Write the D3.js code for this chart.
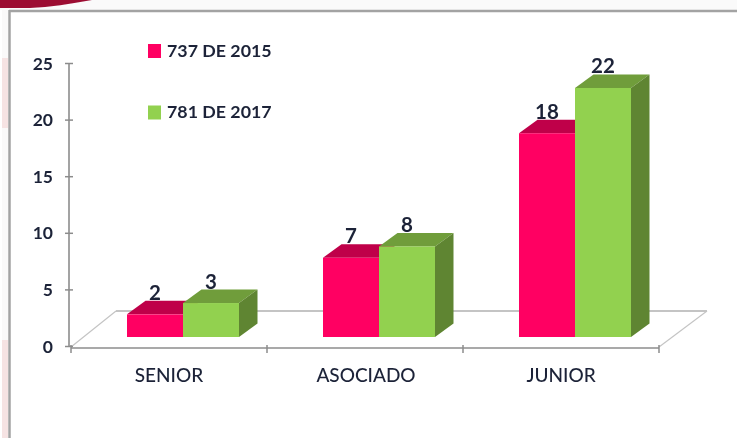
<!DOCTYPE html>
<html>
<head>
<meta charset="utf-8">
<script src="https://cdn.jsdelivr.net/npm/d3@7"></script>
<style>
  html, body { margin: 0; padding: 0; background: #fff; }
  svg { display: block; }
  text { font-family: Lato, "Open Sans", sans-serif; font-weight: 700; fill: #1c2438; }
</style>
</head>
<body>
<svg id="chart" width="737" height="438"></svg>
<script>
//// DATA
const categories = ["SENIOR", "ASOCIADO", "JUNIOR"]
const seriesNames = ["737 DE 2015", "781 DE 2017"]
const values2015 = [2, 7, 18]
const values2017 = [3, 8, 22]
const yTicks = [0, 5, 10, 15, 20, 25]

//// STYLE
const faceColors = ["#ff0062", "#92d14f"]
const topColors = ["#bf0049", "#6f9d3b"]
const sideColors = ["#a80040", "#5f8530"]
const axisColor = "#8c8c8c"
const floorColor = "#c4c4c4"

const width = 737, height = 438
const svg = d3.select("#chart")

// the picture is a soft upscaled screenshot, so everything gets a little blur
// (filter goes on groups, a straight line alone has an empty bbox and vanishes)
const defs = svg.append("defs")
defs.append("filter").attr("id", "soft").append("feGaussianBlur").attr("stdDeviation", 0.45)
defs.append("filter").attr("id", "softer").append("feGaussianBlur").attr("stdDeviation", 1.2)

const x = d3.scaleBand().domain(categories).range([71, 659])
const y = d3.scaleLinear().domain([0, 25]).range([346, 63])

// 3d offsets
const floorDx = 45, floorDy = -36   // full floor depth
const barShiftX = 14, barShiftY = -9 // bars stand a bit behind the front edge
const depthX = 18.5, depthY = -13.5
const barW = 56

//// slide background behind the chart frame
const bg = svg.append("g")
bg.append("rect").attr("x", 2).attr("y", 8).attr("width", 6).attr("height", 430).attr("fill", "#f7f5f5").attr("opacity", 0.6)
bg.append("rect").attr("width", width).attr("height", 10).attr("fill", "#fafafa")
bg.append("path")
  .attr("d", "M0,0H92C70,4 50,7 30,8H0Z")
  .attr("fill", "#9c0f33")
  .attr("filter", "url(#soft)")
bg.append("rect").attr("x", 2).attr("y", 58).attr("width", 6).attr("height", 70).attr("fill", "#f6e3e3").attr("filter", "url(#soft)")
bg.append("rect").attr("x", 2).attr("y", 340).attr("width", 6).attr("height", 98).attr("fill", "#f6e3e3").attr("filter", "url(#soft)")

//// frame
const frame = svg.append("g").attr("filter", "url(#soft)")
frame.append("line").attr("x1", 9).attr("x2", width + 4).attr("y1", 11).attr("y2", 11)
  .attr("stroke", "#a3a3a3").attr("stroke-width", 2.5)
frame.append("line").attr("x1", 9.5).attr("x2", 9.5).attr("y1", 10).attr("y2", height + 4)
  .attr("stroke", "#a3a3a3").attr("stroke-width", 2.5)

//// floor
const x0 = x.range()[0], x1 = x.range()[1], y0 = y(0)
const floor = svg.append("g").attr("filter", "url(#soft)").attr("fill", "none").attr("stroke", floorColor)
floor.append("line").attr("x1", x0 + floorDx).attr("x2", x1 + 48).attr("y1", y0 + floorDy + 1).attr("y2", y0 + floorDy + 1).attr("stroke-width", 2)
floor.append("line").attr("x1", x0).attr("x2", x0 + floorDx).attr("y1", y0 + 1).attr("y2", y0 + floorDy + 1).attr("stroke-width", 1.2)
floor.append("line").attr("x1", x1).attr("x2", x1 + 48).attr("y1", y0 + 1).attr("y2", y0 + floorDy + 1).attr("stroke-width", 1.2)

//// axes
const yAxis = d3.axisLeft(y).tickValues(yTicks).tickSize(0).tickPadding(0)
const yG = svg.append("g").attr("transform", "translate(69,0)").attr("filter", "url(#soft)").call(yAxis)
yG.select(".domain").remove()
yG.selectAll(".tick text").remove()
yG.selectAll(".tick").append("line").attr("x1", -4).attr("x2", 4)
  .attr("stroke", axisColor).attr("stroke-width", 1.5)
yG.append("line").attr("y1", y(25)).attr("y2", y(0)).attr("stroke", axisColor).attr("stroke-width", 1.6)
yG.selectAll(".tick").append("text")
  .attr("x", -16).attr("y", 0).attr("dy", "0.35em")
  .attr("text-anchor", "end")
  .attr("font-size", 17.5)
  .text(d => d)

const xG = svg.append("g").attr("filter", "url(#soft)")
xG.append("line").attr("x1", x0).attr("x2", x1).attr("y1", y0 + 2).attr("y2", y0 + 2)
  .attr("stroke", axisColor).attr("stroke-width", 1.6)
const xEdges = categories.map(c => x(c)).concat([x1])
xG.selectAll(".xtick").data(xEdges).join("line")
  .attr("class", "xtick")
  .attr("x1", d => d).attr("x2", d => d)
  .attr("y1", y0 - 1).attr("y2", y0 + 7)
  .attr("stroke", axisColor).attr("stroke-width", 1.5)

svg.append("g").attr("filter", "url(#soft)").selectAll("text").data(categories).join("text")
  .attr("x", (d, i) => x(d) + x.bandwidth() / 2 + [0, 1, 0][i])
  .attr("y", 382)
  .attr("text-anchor", "middle")
  .attr("font-size", 19)
  .style("font-weight", 500)
  .text(d => d)

//// bars
const bars = []
categories.forEach((c, i) => {
  bars.push({ cat: c, s: 0, v: values2015[i] })
  bars.push({ cat: c, s: 1, v: values2017[i] })
})
const barLeft = d => x(d.cat) + x.bandwidth() / 2 + barShiftX + (d.s - 1) * barW
const barTop = d => y(d.v) + barShiftY
const barBottom = y0 + barShiftY

const barG = svg.append("g").attr("filter", "url(#soft)")
// top faces
barG.selectAll(".top").data(bars).join("path")
  .attr("class", "top")
  .attr("fill", d => topColors[d.s])
  .attr("d", d => {
    const l = barLeft(d), t = barTop(d)
    return `M${l},${t}L${l + depthX},${t + depthY}H${l + barW + depthX}L${l + barW},${t}Z`
  })
// side faces, only the right hand series shows one
barG.selectAll(".side").data(bars.filter(d => d.s === 1)).join("path")
  .attr("class", "side")
  .attr("fill", d => sideColors[d.s])
  .attr("d", d => {
    const r = barLeft(d) + barW, t = barTop(d)
    return `M${r},${t}L${r + depthX},${t + depthY}V${barBottom + depthY}L${r},${barBottom}Z`
  })
barG.selectAll(".face").data(bars).join("rect")
  .attr("class", "face")
  .attr("x", barLeft)
  .attr("y", barTop)
  .attr("width", barW)
  .attr("height", d => barBottom - barTop(d))
  .attr("fill", d => faceColors[d.s])

// value labels sit on the top face, centred over the front
svg.append("g").attr("filter", "url(#soft)").selectAll("text").data(bars).join("text")
  .attr("x", d => barLeft(d) + barW / 2)
  .attr("y", d => barTop(d) - 14.5)
  .attr("text-anchor", "middle")
  .attr("font-size", 20.5)
  .text(d => d.v)

//// legend
const legend = svg.append("g").attr("filter", "url(#soft)").selectAll("g").data(seriesNames).join("g")
  .attr("transform", (d, i) => `translate(148,${44 + i * 61.5})`)
legend.append("rect").attr("width", 13).attr("height", 14)
  .attr("fill", (d, i) => faceColors[i])
legend.append("text").attr("x", 19).attr("y", 12.5)
  .attr("font-size", 17.8)
  .text(d => d)
</script>
</body>
</html>
